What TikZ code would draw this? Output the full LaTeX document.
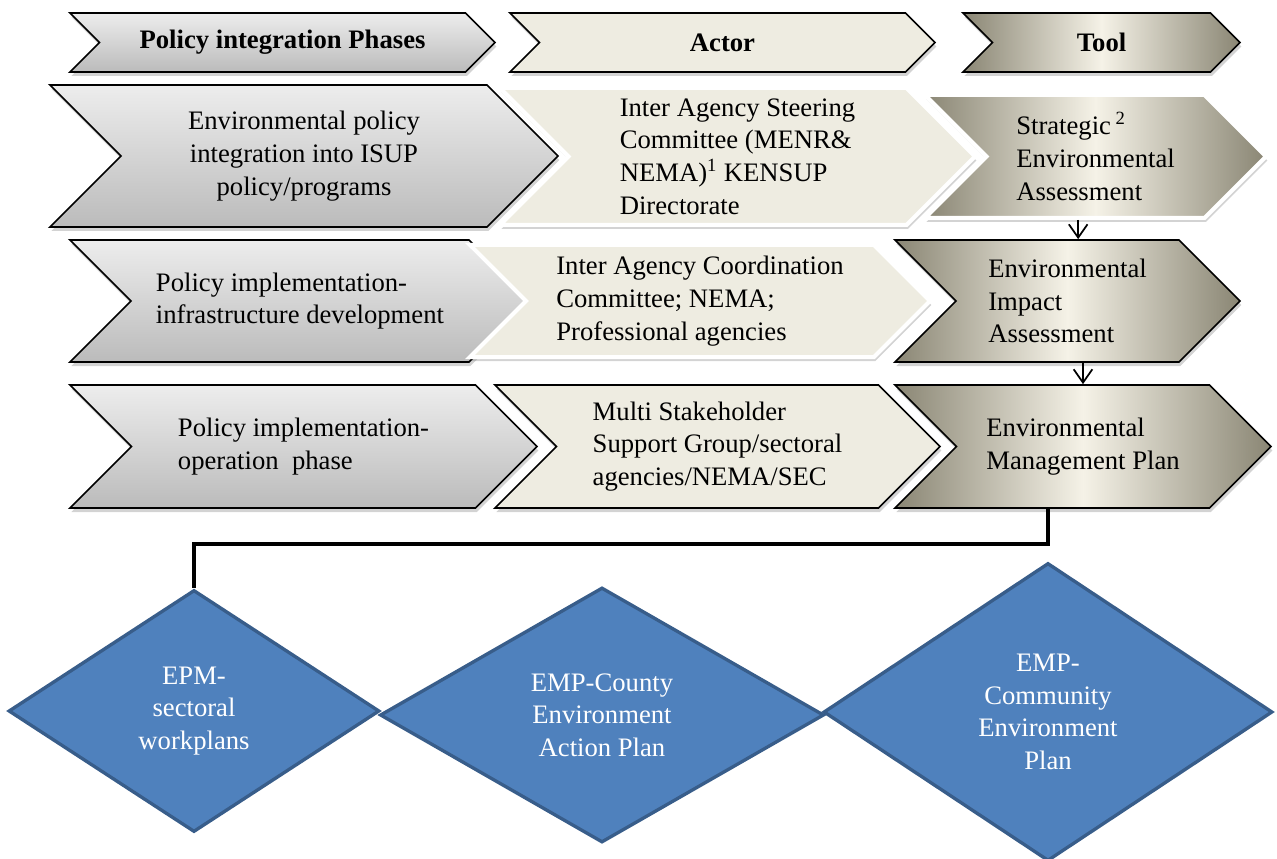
\documentclass[tikz,border=0pt]{standalone}
\usepackage{fontspec}
\setmainfont{Liberation Serif}
\usetikzlibrary{shapes.symbols,shapes.geometric,shadows,arrows.meta}
\definecolor{phasetop}{HTML}{EDEDED}
\definecolor{phasebot}{HTML}{BBBBBB}
\definecolor{actorfill}{HTML}{EEECE1}
\definecolor{tooldark}{HTML}{8A8674}
\definecolor{toollight}{HTML}{F5F2E7}
\definecolor{planfill}{HTML}{4F81BD}
\definecolor{planline}{HTML}{385D8A}
\begin{document}
\begin{tikzpicture}[x=0.75pt, y=-0.75pt,
		>={Straight Barb[length=10pt, width=14pt]},
		chev/.style={signal, signal from=west, signal to=east, draw=black, line width=1.3pt, inner sep=0pt, align=left, font=\fontsize{20}{24.5}\selectfont, drop shadow={opacity=0.35, shadow xshift=1pt, shadow yshift=-3pt}},
		phase/.style={chev, top color=phasetop, bottom color=phasebot},
		actor/.style={chev, fill=actorfill},
		tool/.style={chev, left color=tooldark, right color=tooldark, middle color=toollight},
		rim/.style={draw=white, line width=3pt},
		head/.style={font=\bfseries\fontsize{20}{24.5}\selectfont},
		plan/.style={diamond, draw=planline, line width=2.5pt, fill=planfill, text=white, align=center, inner sep=0pt, font=\fontsize{20}{24.5}\selectfont},
		arrow/.style={->, line width=1.3pt},
		link/.style={line width=2.5pt}
		]
		
		\useasboundingbox (0,0) rectangle (1277,859);
		
		\node[phase, head, minimum width=318.75pt, minimum height=44.25pt] (phases) at (282.5,42.5) {Policy integration Phases};
		\node[actor, head, minimum width=318.75pt, minimum height=44.25pt] (actor) at (722.5,42.5) {Actor};
		\node[tool, head, minimum width=207.75pt, minimum height=44.25pt] (tool) at (1101.5,42.5) {Tool};
		
		\node[phase, align=center, minimum width=381pt, minimum height=106.5pt] (integration) at (304,156) {Environmental policy\\integration into ISUP\\policy/programs};
		\node[actor, rim, minimum width=356.25pt, minimum height=102.75pt] (steering) at (737.5,156.5) {Inter Agency Steering\\Committee (MENR\&\\NEMA)\textsuperscript{1} KENSUP\\Directorate};
		\node[tool, rim, minimum width=255.75pt, minimum height=92.25pt] (sea) at (1095.5,156.5) {Strategic\,\textsuperscript{2}\\Environmental\\Assessment};
		
		\node[phase, minimum width=345pt, minimum height=91.5pt] (infra) at (300,301) {Policy implementation-\\infrastructure development};
		\node[actor, rim, minimum width=345pt, minimum height=84pt] (coordination) at (700,301) {Inter Agency Coordination\\Committee; NEMA;\\Professional agencies};
		\node[tool, minimum width=258.75pt, minimum height=91.5pt] (eia) at (1067.5,301) {Environmental\\Impact\\Assessment};
		
		\node[phase, minimum width=350.25pt, minimum height=92.25pt] (operation) at (303.5,446.5) {Policy implementation-\\operation\ \ phase};
		\node[actor, minimum width=333.75pt, minimum height=92.25pt] (stakeholder) at (717.5,446.5) {Multi Stakeholder\\Support Group/sectoral\\agencies/NEMA/SEC};
		\node[tool, minimum width=282pt, minimum height=92.25pt] (emp) at (1083,446.5) {Environmental\\Management Plan};
		
		\node[plan, minimum width=278.25pt, minimum height=181.5pt] (sectoral) at (194,711) {EPM-\\sectoral\\workplans};
		\node[plan, minimum width=333pt, minimum height=191.25pt] (county) at (602,715) {EMP-County\\Environment\\Action Plan};
		\node[plan, minimum width=336.75pt, minimum height=223.5pt] (community) at (1048,712) {EMP-\\Community\\Environment\\Plan};
		
		\coordinate (seafoot) at ([xshift=-13pt]sea.south);
		\draw[arrow] (seafoot) -- (seafoot |- eia.north);
		\draw[arrow] (eia.south -| emp.north) -- (emp.north);
		\draw[link] (emp.south -| community.north) -- ++(0,35) -| (sectoral.north);
		
	\end{tikzpicture}
\end{document}
